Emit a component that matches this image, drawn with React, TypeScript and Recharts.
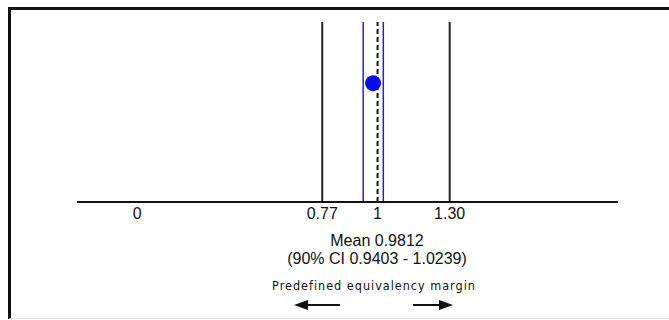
import React from "react";
import {
  ScatterChart,
  Scatter,
  XAxis,
  YAxis,
  ReferenceLine,
} from "recharts";

const tickValues = [0, 0.77, 1, 1.3];
const tickLabels = ["0", "0.77", "1", "1.30"];
const marginBounds = [0.77, 1.3];
const ciBounds = [0.9403, 1.0239];
const referenceValue = 1;
const meanPoints = [{ x: 0.9812, y: 0.66 }];
const captionLines = ["Mean 0.9812", "(90% CI 0.9403 - 1.0239)"];
const marginCaption = "Predefined equivalency margin";

const W = 669;
const H = 320;

const MeanDot = (props: any) => (
  <circle cx={props.cx} cy={props.cy} r={8} fill="#0b0be8" />
);

export default function App() {
  return (
    <div
      style={{
        position: "absolute",
        left: 0,
        top: 0,
        width: W,
        height: H,
        overflow: "hidden",
        background: "#fff",
        fontFamily: "'Liberation Sans', Arial, sans-serif",
      }}
    >
      {/* frame */}
      <div
        style={{
          position: "absolute",
          left: 8,
          top: 7,
          width: 720,
          height: 308,
          borderTop: "3px solid #111",
          borderLeft: "3px solid #111",
          borderBottom: "1px solid #e2e2e2",
        }}
      />

      <div style={{ position: "absolute", left: 0, top: 0 }}>
        <ScatterChart
          width={W}
          height={H}
          margin={{ top: 22, right: 51, bottom: 88, left: 77 }}
        >
          <XAxis
            type="number"
            dataKey="x"
            domain={[-0.25, 2]}
            ticks={tickValues}
            tickFormatter={(v: number) => tickLabels[tickValues.indexOf(v)] ?? String(v)}
            axisLine={{ stroke: "#111", strokeWidth: 2 }}
            tickLine={false}
            tickSize={0}
            tickMargin={6}
            height={30}
            tick={{ fill: "#111", fontSize: 16 }}
            interval={0}
          />
          <YAxis type="number" dataKey="y" domain={[0, 1]} hide />
          {marginBounds.map((v) => (
            <ReferenceLine key={"m" + v} x={v} stroke="#222" strokeWidth={2} />
          ))}
          {ciBounds.map((v) => (
            <ReferenceLine key={"c" + v} x={v} stroke="#2424c8" strokeWidth={1.5} />
          ))}
          <ReferenceLine
            x={referenceValue}
            stroke="#111"
            strokeWidth={2}
            strokeDasharray="5 3"
          />
          <Scatter
            data={meanPoints}
            shape={MeanDot}
            isAnimationActive={false}
          />
        </ScatterChart>
      </div>

      {/* captions */}
      <div
        style={{
          position: "absolute",
          left: 377,
          top: 232,
          transform: "translateX(-50%)",
          textAlign: "center",
          fontSize: 16,
          lineHeight: "18px",
          color: "#111",
          whiteSpace: "nowrap",
        }}
      >
        {captionLines.map((l) => (
          <div key={l}>{l}</div>
        ))}
      </div>
      <div
        style={{
          position: "absolute",
          left: 374,
          top: 278,
          transform: "translateX(-50%)",
          fontFamily: "'DejaVu Sans Condensed', 'DejaVu Sans', sans-serif",
          fontSize: 12.5,
          letterSpacing: "1px",
          color: "#111",
          whiteSpace: "nowrap",
        }}
      >
        {marginCaption}
      </div>

      {/* arrows */}
      <svg
        width={W}
        height={H}
        style={{ position: "absolute", left: 0, top: 0, pointerEvents: "none" }}
      >
        <line x1={306} y1={305} x2={340} y2={305} stroke="#111" strokeWidth={2} />
        <polygon points="294,305 308,300 308,310" fill="#111" />
        <line x1={413} y1={305} x2={440} y2={305} stroke="#111" strokeWidth={2} />
        <polygon points="453,305 439,300 439,310" fill="#111" />
      </svg>
    </div>
  );
}
